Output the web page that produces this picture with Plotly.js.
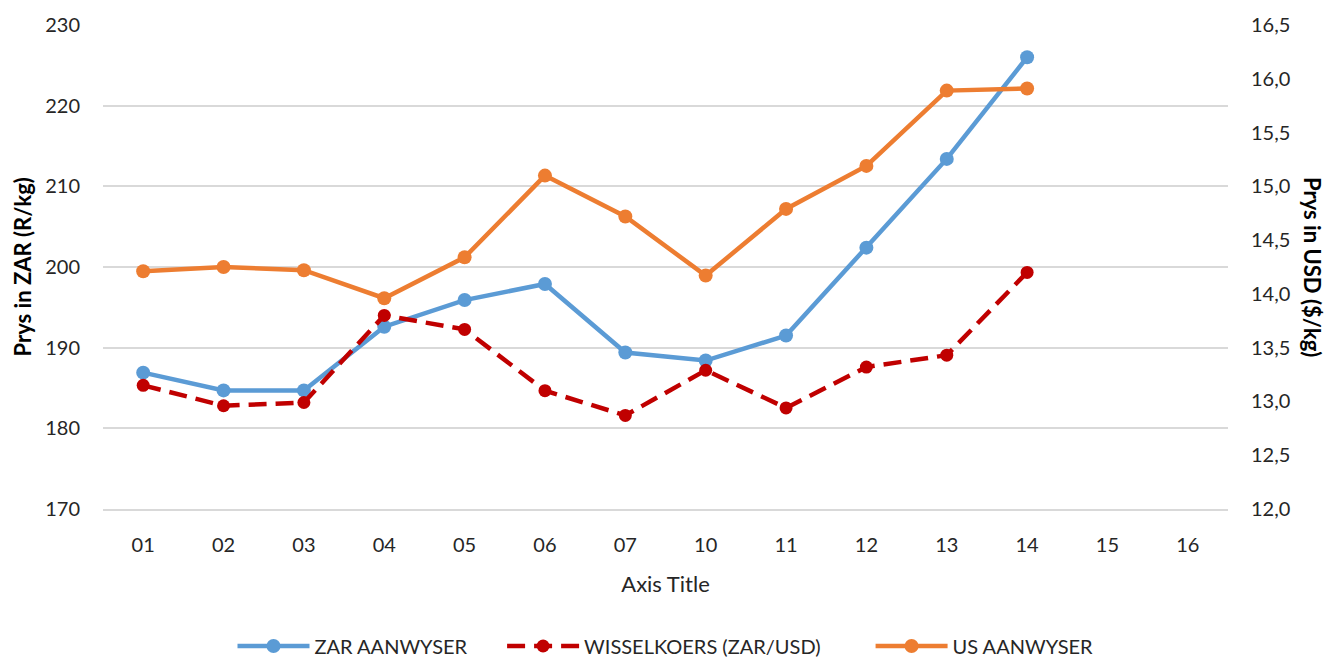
<!DOCTYPE html>
<html>
<head>
<meta charset="utf-8">
<script src="https://cdn.plot.ly/plotly-3.0.1.min.js"></script>
<style>html,body{margin:0;padding:0;background:#fff;}#chart{width:1341px;height:659px;}</style>
</head>
<body>
<div id="chart"></div>
<script>
const categories = ["01","02","03","04","05","06","07","10","11","12","13","14","15","16"];
const zarAanwyser = [186.9,184.7,184.7,192.6,195.9,197.9,189.4,188.4,191.5,202.4,213.4,226.0];
const wisselkoers = [13.15,12.96,12.99,13.80,13.67,13.10,12.87,13.29,12.94,13.32,13.43,14.20];
const usAanwyser = [14.21,14.25,14.22,13.96,14.34,15.10,14.72,14.17,14.79,15.19,15.89,15.91];
const seriesNames = ["ZAR AANWYSER", "WISSELKOERS (ZAR/USD)", "US AANWYSER"];
const leftTicks = [170,180,190,200,210,220,230];
const rightTicks = [12.0,12.5,13.0,13.5,14.0,14.5,15.0,15.5,16.0,16.5];

const FONT = "Lato, 'Open Sans', sans-serif";
const xs = categories.slice(0, zarAanwyser.length);
const GAP1 = "\u2003\u2003";
const GAP2 = "\u2003\u2003\u2003";

const traces = [
  {x: xs, y: zarAanwyser, name: seriesNames[0] + GAP1, type: "scatter", mode: "lines+markers",
   line: {color: "#5B9BD5", width: 4.5}, marker: {color: "#5B9BD5", size: 14}, yaxis: "y"},
  {x: xs, y: wisselkoers, name: seriesNames[1] + GAP2, type: "scatter", mode: "lines+markers",
   line: {color: "#C00000", width: 4.5, dash: "18px,9px"}, marker: {color: "#C00000", size: 13}, yaxis: "y2"},
  {x: xs, y: usAanwyser, name: seriesNames[2], type: "scatter", mode: "lines+markers",
   line: {color: "#ED7D31", width: 4.5}, marker: {color: "#ED7D31", size: 14}, yaxis: "y2"}
];

const layout = {
  width: 1341, height: 659,
  margin: {l: 103, r: 113, t: 25, b: 150, autoexpand: false},
  paper_bgcolor: "#fff", plot_bgcolor: "#fff",
  separators: ",.",
  font: {family: FONT, size: 20, color: "#404040"},
  showlegend: true,
  legend: {orientation: "h", x: 0.5, xanchor: "center", y: -0.283, yanchor: "middle",
           font: {family: FONT, size: 20, color: "#262626"}, itemwidth: 72, tracegroupgap: 0},
  xaxis: {type: "category", categoryorder: "array", categoryarray: categories,
          range: [-0.5, categories.length - 0.5],
          tickvals: categories, ticktext: categories,
          showgrid: false, showline: true, linecolor: "#D9D9D9", linewidth: 1.5,
          ticks: "", ticklabelstandoff: 17, zeroline: false,
          tickfont: {family: FONT, size: 20, color: "#262626"},
          title: {text: "Axis Title", font: {family: FONT, size: 22, color: "#262626"}, standoff: 22}},
  yaxis: {range: [170, 230], tickvals: leftTicks, showgrid: true, gridcolor: "#D9D9D9", gridwidth: 1.5,
          zeroline: false, showline: false, ticks: "", ticklabelstandoff: 22,
          tickfont: {family: FONT, size: 20, color: "#262626"}},
  yaxis2: {range: [12, 16.5], tickvals: rightTicks, tickformat: ".1f", overlaying: "y", side: "right",
           showgrid: false, zeroline: false, showline: false, ticks: "", ticklabelstandoff: 22,
           tickfont: {family: FONT, size: 20, color: "#262626"}},
  annotations: [
    {text: "<b>Prys in ZAR (R/kg)</b>", xref: "paper", yref: "paper", x: -0.0716, y: 0.5,
     xanchor: "center", yanchor: "middle", textangle: -90, showarrow: false,
     font: {family: FONT, size: 22, color: "#000"}},
    {text: "<b>Prys in USD ($/kg)</b>", xref: "paper", yref: "paper", x: 1.0755, y: 0.5,
     xanchor: "center", yanchor: "middle", textangle: 90, showarrow: false,
     font: {family: FONT, size: 22, color: "#000"}}
  ]
};

Plotly.newPlot("chart", traces, layout, {displayModeBar: false, responsive: false});
</script>
</body>
</html>
